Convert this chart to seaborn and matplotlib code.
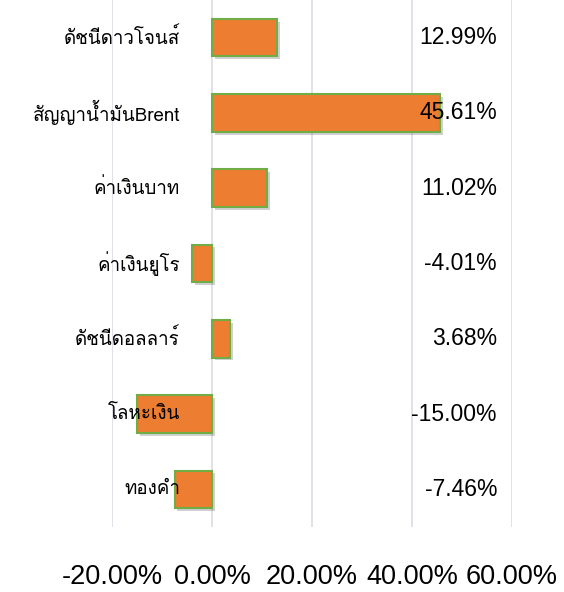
import matplotlib
matplotlib.use("Agg")
import matplotlib.pyplot as plt
import matplotlib.patheffects as pe
from matplotlib import font_manager
import seaborn as sns
import pandas as pd

categories = ["ดัชนีดาวโจนส์", "สัญญาน้ำมันBrent", "ค่าเงินบาท", "ค่าเงินยูโร",
              "ดัชนีดอลลาร์", "โลหะเงิน", "ทองคำ"]
values = [12.99, 45.61, 11.02, -4.01, 3.68, -15.00, -7.46]
value_labels = ["12.99%", "45.61%", "11.02%", "-4.01%", "3.68%", "-15.00%", "-7.46%"]
x_ticks = [-20, 0, 20, 40, 60]
x_tick_labels = ["-20.00%", "0.00%", "20.00%", "40.00%", "60.00%"]


def find_thai_font():
    try:
        from fontTools.ttLib import TTFont
    except Exception:
        return None
    preferred = []
    others = []
    for f in font_manager.fontManager.ttflist:
        try:
            tt = TTFont(f.fname, fontNumber=0, lazy=True)
            cmap = tt.getBestCmap()
            if cmap and 0x0E14 in cmap and 0x0E31 in cmap:
                if "Thai" in f.name or "Loma" in f.name or "Garuda" in f.name:
                    preferred.append(f.name)
                else:
                    others.append(f.name)
        except Exception:
            continue
    if preferred:
        return preferred[0]
    if others:
        return others[0]
    return None


sns.set_theme(style="white")
thai = find_thai_font()
latin = "Liberation Sans"
fam = [thai, latin, "DejaVu Sans"] if thai else [latin, "DejaVu Sans"]
plt.rcParams["font.family"] = [latin, "DejaVu Sans"]

df = pd.DataFrame({"cat": categories, "val": values})

fig = plt.figure(figsize=(5.64, 5.92), dpi=100)
ax = fig.add_axes([112 / 564, 65 / 592, 400 / 564, 527 / 592])

sns.barplot(data=df, y="cat", x="val", orient="h", color="#ED7D31",
            edgecolor="#70AD47", linewidth=1.5, width=0.5, saturation=1, ax=ax)

for p in ax.patches:
    p.set_path_effects([pe.SimplePatchShadow(offset=(2, -2), alpha=0.25, shadow_rgbFace="#444444"),
                        pe.Normal()])
    p.set_zorder(2)

ax.set_xlim(-20, 60)
ax.set_ylim(6.5, -0.5)
ax.set_xticks(x_ticks)
ax.set_xticklabels(x_tick_labels, fontsize=19.5, color="#000000")
ax.grid(axis="x", color="#D9DDE3", linewidth=1.2)
ax.grid(axis="y", visible=False)
ax.set_axisbelow(True)
for s in ax.spines.values():
    s.set_visible(False)
ax.set_xlabel("")
ax.set_ylabel("")
ax.tick_params(axis="x", length=0, pad=27)
ax.tick_params(axis="y", length=0, labelleft=False)

ytr = ax.get_yaxis_transform()
for i, c in enumerate(categories):
    ax.text(0.17, i, c, transform=ytr, ha="right", va="center",
            fontsize=13.5, color="#000000", family=fam, zorder=6)

for i, t in enumerate(value_labels):
    ax.text(0.9625, i, t, transform=ytr, ha="right", va="center",
            fontsize=16.5, color="#000000", zorder=6)

fig.savefig("out.png", dpi=100)
